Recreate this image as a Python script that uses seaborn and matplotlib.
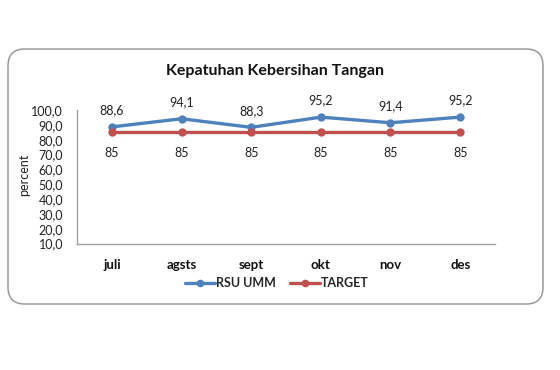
import matplotlib
matplotlib.use("Agg")
import matplotlib.pyplot as plt
from matplotlib.patches import FancyBboxPatch
from matplotlib.lines import Line2D
from matplotlib.ticker import FixedLocator, FuncFormatter
import seaborn as sns
import pandas as pd

months = ["juli", "agsts", "sept", "okt", "nov", "des"]
rsu_umm = [88.6, 94.1, 88.3, 95.2, 91.4, 95.2]
target = [85, 85, 85, 85, 85, 85]
series_names = ["RSU UMM", "TARGET"]
y_ticks = [10, 20, 30, 40, 50, 60, 70, 80, 90, 100]
title = "Kepatuhan Kebersihan Tangan"
y_label = "percent"

sns.set_style("white")
plt.rcParams["font.family"] = ["Lato", "DejaVu Sans"]

df = pd.DataFrame({
    "x": list(range(len(months))) * 2,
    "value": rsu_umm + target,
    "series": [series_names[0]] * len(months) + [series_names[1]] * len(months),
})

fig = plt.figure(figsize=(5.6, 3.7), dpi=100)
ax = fig.add_axes([77 / 560, 1 - 243.5 / 370, 418 / 560, 133.5 / 370])

# rounded border
box = FancyBboxPatch((8 / 560, 1 - 304 / 370), 535 / 560, 255 / 370,
                     boxstyle="round,pad=0,rounding_size=0.03",
                     transform=fig.transFigure, facecolor="white",
                     edgecolor="#9a9a9a", linewidth=1.1, zorder=-10,
                     mutation_aspect=560 / 370)
fig.patches.append(box)

palette = {"RSU UMM": "#4F81BD", "TARGET": "#C0504D"}
sns.lineplot(data=df, x="x", y="value", hue="series", palette=palette,
             marker="o", markersize=6, markeredgewidth=0, linewidth=2.4,
             ax=ax, legend=False)

ax.set_xlim(-0.5, len(months) - 0.5)
ax.set_ylim(10, 100)
ax.xaxis.set_major_locator(FixedLocator(range(len(months))))
ax.set_xticklabels(months, fontsize=9.5, fontweight="bold")
ax.yaxis.set_major_locator(FixedLocator(y_ticks))
ax.yaxis.set_major_formatter(FuncFormatter(lambda v, p: f"{v:.1f}".replace(".", ",")))
ax.tick_params(axis="y", length=0, pad=10, labelsize=9, colors="#222222")
ax.tick_params(axis="x", length=0, pad=11, colors="#111111")
ax.set_xlabel("")
ax.set_ylabel("")
for s in ["top", "right"]:
    ax.spines[s].set_visible(False)
for s in ["left", "bottom"]:
    ax.spines[s].set_color("#a0a0a0")
    ax.spines[s].set_linewidth(1.0)

for i, v in enumerate(rsu_umm):
    ax.annotate(f"{v:.1f}".replace(".", ","), (i, v), xytext=(0, 12),
                textcoords="offset points", ha="center", va="center",
                fontsize=9, color="#222222")
for i, v in enumerate(target):
    ax.annotate(f"{v:g}", (i, v), xytext=(0, -15),
                textcoords="offset points", ha="center", va="center",
                fontsize=9, color="#222222")

fig.text(275 / 560, 1 - 71 / 370, title, ha="center", va="center",
         fontsize=11.5, fontweight="bold", color="#111111")
fig.text(24 / 560, 1 - 175 / 370, y_label, rotation=90, ha="center",
         va="center", fontsize=9, color="#222222")

handles = [Line2D([], [], color=palette[n], marker="o", markersize=5.5,
                  markeredgewidth=0, linewidth=2.4) for n in series_names]
leg = fig.legend(handles, series_names, loc="center",
                 bbox_to_anchor=(277 / 560, 1 - 283 / 370), ncol=2,
                 frameon=False, handlelength=2.4, handletextpad=0.1,
                 columnspacing=1.1, prop={"size": 9, "weight": "bold"})

fig.savefig("out.png", dpi=100, facecolor="white")
